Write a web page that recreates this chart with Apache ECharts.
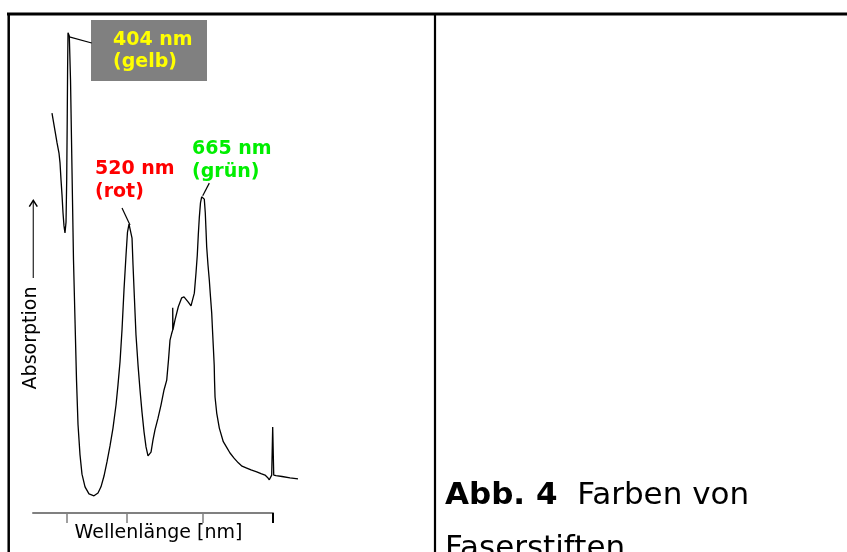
<!DOCTYPE html>
<html>
<head>
<meta charset="utf-8">
<title>Abb. 4 Farben von Faserstiften</title>
<script src="https://cdn.jsdelivr.net/npm/echarts@6.0.0/dist/echarts.min.js"></script>
<style>
  html, body { margin: 0; padding: 0; background: #fff; }
  #main { width: 847px; height: 552px; }
</style>
</head>
<body>
<div id="main"></div>
<script>
// Spektrum (Wellenlaenge in nm, Absorption in willk. Einheiten)
var wavelength = [376.4, 382.2, 386.0, 389.8, 391.8, 393.7, 395.6, 397.5, 399.4, 401.3,
    403.3, 404.6, 405.6, 406.3, 407.1, 409.6, 411.9, 413.8, 415.7, 417.6,
    420.5, 423.4, 426.3, 430.1, 433.9, 439.7, 447.3, 456.9, 464.6, 470.3,
    476.1, 481.8, 487.6, 493.3, 499.1, 502.9, 506.8, 510.6, 514.4, 518.3,
    521.1, 524.0, 526.9, 529.8, 531.7, 534.5, 537.4, 541.3, 545.1, 548.9,
    552.8, 556.6, 560.4, 563.3, 566.2, 570.0, 573.8, 579.6, 585.3, 591.1,
    596.3, 599.7, 602.6, 605.5, 607.8, 607.8, 608.2, 612.2, 618.5, 625.0,
    629.4, 633.2, 637.6, 642.8, 646.1, 649.2, 652.4, 654.9, 656.8, 658.7,
    661.0, 663.3, 665.8, 668.3, 670.2, 671.6, 672.9, 675.4, 677.9, 680.2,
    682.5, 684.0, 685.6, 687.3, 687.9, 688.9, 692.1, 697.1, 704.7, 711.8,
    717.6, 725.3, 733.5, 740.6, 749.6, 757.9, 768.8, 777.0, 784.7, 789.5,
    792.9, 795.6, 797.5, 799.4, 801.4, 805.8, 817.3, 832.6, 847.9];
var absorption = [82.3, 78.5, 76.0, 73.8, 71.7, 68.1, 64.9, 61.1, 58.3, 56.8,
    59.1, 68.1, 80.9, 91.5, 99.4, 98.7, 89.4, 76.6, 63.8, 51.1,
    38.3, 25.5, 16.0, 9.6, 5.5, 2.8, 1.3, 0.9, 1.5, 2.8,
    5.1, 8.1, 11.5, 15.3, 20.2, 24.5, 29.4, 36.2, 44.7, 52.1,
    57.0, 58.7, 58.3, 55.7, 50.0, 42.6, 35.1, 28.7, 23.4, 18.7,
    14.5, 11.3, 9.4, 9.1, 10.2, 12.8, 14.9, 17.4, 20.2, 23.4,
    25.5, 29.8, 34.0, 35.3, 36.2, 40.9, 36.2, 38.3, 41.1, 43.0,
    43.2, 42.8, 42.1, 41.3, 41.0, 44.0, 48.3, 52.1, 56.4, 60.0,
    63.2, 64.5, 64.7, 64.0, 61.1, 57.4, 53.8, 50.0, 46.8, 43.2,
    39.8, 36.2, 32.6, 28.7, 25.5, 21.9, 18.5, 15.3, 12.4, 11.1,
    10.0, 8.9, 7.9, 7.2, 6.8, 6.4, 6.0, 5.6, 5.3, 4.8,
    4.3, 4.6, 5.3, 15.5, 5.3, 5.2, 5.0, 4.7, 4.5];

// Markierte Maxima mit Hinweislinien (von Peak zu Beschriftung)
var peakNames = ['404 nm\n(gelb)', '520 nm\n(rot)', '665 nm\n(grün)'];
var peakColors = ['#ffff00', '#ff0000', '#00ee00'];
var leaderFrom = [[409.6, 98.5], [525.9, 58.5], [665.3, 64.7]];
var leaderTo = [[452.5, 97.2], [510.6, 62.1], [677.9, 67.4]];

// Achsenstriche
var tickValues = [404, 520, 665];
var endTick = [800];

var chart = echarts.init(document.getElementById('main'));

var points = wavelength.map(function (w, i) { return [w, absorption[i]]; });
var leaders = leaderFrom.map(function (p, i) {
    return [{ coord: p }, { coord: leaderTo[i] }];
});

var option = {
    animation: false,
    backgroundColor: '#fff',
    grid: [
        { left: 33, top: 20, width: 265, height: 480 },
        { left: 33, top: 20, width: 240, height: 493 },
        { left: 33, top: 20, width: 240, height: 493 }
    ],
    xAxis: [
        { gridIndex: 0, type: 'value', min: 340, max: 847.9, show: false },
        {
            gridIndex: 1, type: 'value', min: 340, max: 800,
            splitLine: { show: false },
            axisLabel: { show: false },
            axisLine: { lineStyle: { color: '#808080', width: 2 } },
            axisTick: { customValues: tickValues, length: 10, lineStyle: { color: '#808080', width: 1.5 } }
        },
        {
            gridIndex: 2, type: 'value', min: 340, max: 800,
            splitLine: { show: false },
            axisLabel: { show: false },
            axisLine: { show: false },
            axisTick: { customValues: endTick, length: 10, lineStyle: { color: '#000', width: 2 } }
        }
    ],
    yAxis: [
        { gridIndex: 0, type: 'value', min: 0, max: 102.1, show: false },
        { gridIndex: 1, type: 'value', show: false },
        { gridIndex: 2, type: 'value', show: false }
    ],
    series: [{
        type: 'line',
        xAxisIndex: 0,
        yAxisIndex: 0,
        data: points,
        showSymbol: false,
        smooth: false,
        clip: false,
        lineStyle: { color: '#000', width: 1.3 },
        markLine: {
            silent: true,
            symbol: 'none',
            label: { show: false },
            lineStyle: { color: '#000', width: 1.2, type: 'solid' },
            data: leaders
        }
    }],
    graphic: [
        // Rahmen
        { type: 'line', shape: { x1: 7, y1: 14, x2: 847, y2: 14 }, style: { stroke: '#000', lineWidth: 3 } },
        { type: 'line', shape: { x1: 8.7, y1: 13, x2: 8.7, y2: 552 }, style: { stroke: '#000', lineWidth: 2.5 } },
        { type: 'line', shape: { x1: 435, y1: 14, x2: 435, y2: 552 }, style: { stroke: '#000', lineWidth: 2.2 } },
        // Beschriftungen der Maxima
        { type: 'rect', shape: { x: 91, y: 20, width: 116, height: 61 }, style: { fill: '#808080' }, z: 5 },
        {
            type: 'text', x: 113, y: 29, z: 6,
            style: { text: peakNames[0], fill: peakColors[0], font: 'bold 19px "DejaVu Sans"', lineHeight: 22, verticalAlign: 'top' }
        },
        {
            type: 'text', x: 95, y: 158, z: 6,
            style: { text: peakNames[1], fill: peakColors[1], font: 'bold 19px "DejaVu Sans"', lineHeight: 23, verticalAlign: 'top' }
        },
        {
            type: 'text', x: 192, y: 138, z: 6,
            style: { text: peakNames[2], fill: peakColors[2], font: 'bold 19px "DejaVu Sans"', lineHeight: 23, verticalAlign: 'top' }
        },
        // y-Achsentitel mit Pfeil
        {
            type: 'text', x: 31.5, y: 338, rotation: Math.PI / 2,
            style: { text: 'Absorption', fill: '#000', font: '19px "DejaVu Sans"', align: 'center', verticalAlign: 'middle' }
        },
        { type: 'line', shape: { x1: 33.3, y1: 200.5, x2: 33.3, y2: 278 }, style: { stroke: '#333', lineWidth: 1.3 } },
        { type: 'polyline', shape: { points: [[29.3, 206.7], [33.3, 200.3], [37.3, 206.7]] }, style: { stroke: '#000', lineWidth: 1.5, fill: null } },
        // x-Achsentitel
        {
            type: 'text', x: 158.5, y: 533.5,
            style: { text: 'Wellenlänge [nm]', fill: '#000', font: '19px "DejaVu Sans"', align: 'center', verticalAlign: 'middle' }
        },
        // Bildunterschrift
        {
            type: 'text', x: 445, y: 496.3,
            style: {
                text: '{b|Abb. 4}{r|  Farben von}',
                verticalAlign: 'middle',
                rich: {
                    b: { font: 'bold 31px "DejaVu Sans"', fill: '#000' },
                    r: { font: '31px "DejaVu Sans"', fill: '#000' }
                }
            }
        },
        {
            type: 'text', x: 445, y: 548.7,
            style: { text: 'Faserstiften', fill: '#000', font: '31px "DejaVu Sans"', verticalAlign: 'middle' }
        }
    ]
};

chart.setOption(option);
</script>
</body>
</html>
